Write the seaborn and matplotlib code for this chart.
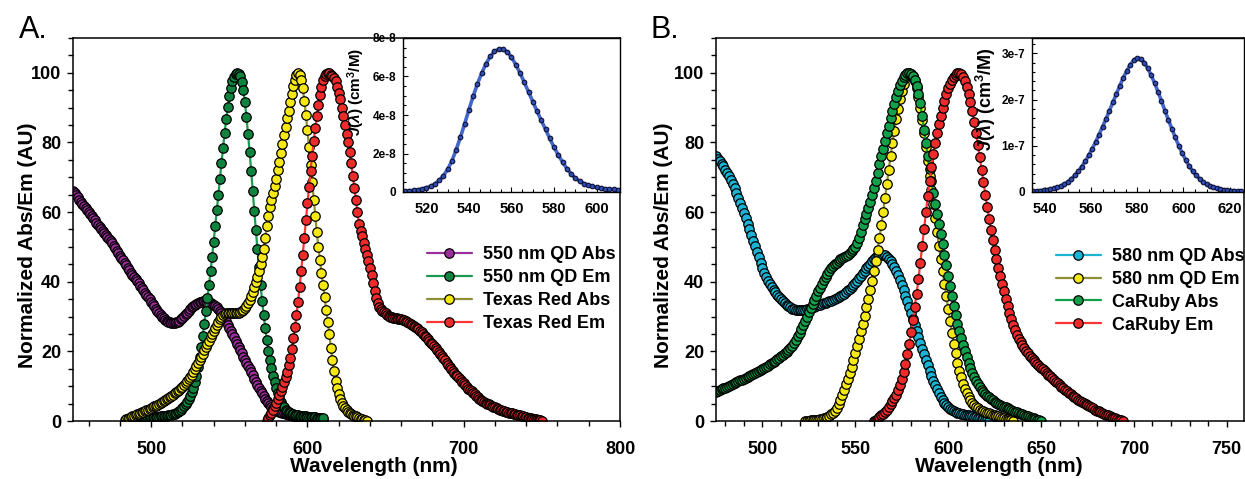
import numpy as np
import pandas as pd
import matplotlib
matplotlib.use("Agg")
import matplotlib.pyplot as plt
import seaborn as sns
from matplotlib.ticker import MultipleLocator, AutoMinorLocator, FuncFormatter

# ---------------- DATA ----------------
# Panel A : 550 nm QD / Texas Red  (1 nm steps)
wl_a_qd_abs = np.arange(450, 611)
a_qd_abs = [
    66.0, 65.4, 64.8, 64.2, 63.6, 63.0, 62.4, 61.8, 61.2, 60.6,
    60.0, 59.4, 58.8, 58.2, 57.6, 57.0, 56.4, 55.8, 55.2, 54.6,
    54.0, 53.4, 52.8, 52.2, 51.6, 51.0, 50.3, 49.6, 48.9, 48.2,
    47.5, 46.8, 46.1, 45.4, 44.7, 44.0, 43.3, 42.6, 42.0, 41.4,
    40.7, 40.1, 39.5, 38.8, 38.2, 37.5, 36.9, 36.3, 35.6, 35.0,
    34.3, 33.6, 33.0, 32.3, 31.7, 31.1, 30.5, 30.0, 29.5, 29.1,
    28.8, 28.5, 28.3, 28.2, 28.1, 28.2, 28.3, 28.5, 28.8, 29.2,
    29.6, 30.1, 30.6, 31.1, 31.6, 32.1, 32.6, 33.0, 33.4, 33.7,
    34.0, 34.2, 34.3, 34.4, 34.4, 34.4, 34.3, 34.1, 33.9, 33.6,
    33.3, 33.0, 32.6, 32.2, 31.7, 31.0, 30.2, 29.4, 28.6, 27.7,
    26.8, 25.9, 25.0, 24.0, 23.1, 22.1, 21.2, 20.3, 19.4, 18.5,
    17.6, 16.7, 15.8, 14.9, 14.0, 13.1, 12.2, 11.3, 10.4, 9.5,
    8.7, 7.9, 7.1, 6.4, 5.7, 5.1, 4.6, 4.1, 3.7, 3.4,
    3.1, 2.9, 2.7, 2.5, 2.3, 2.2, 2.0, 1.9, 1.8, 1.7,
    1.6, 1.5, 1.4, 1.3, 1.2, 1.1, 1.0, 0.95, 0.9, 0.85,
    0.8, 0.75, 0.7, 0.65, 0.6, 0.6, 0.55, 0.5, 0.5, 0.45,
    0.4]

wl_a_qd_em = np.arange(485, 611)
a_qd_em = [
    0.3, 0.4, 0.5, 0.5, 0.6, 0.6, 0.7, 0.7, 0.8, 0.8,
    0.9, 0.9, 1.0, 1.0, 1.0, 1.1, 1.1, 1.1, 1.2, 1.2,
    1.2, 1.3, 1.3, 1.4, 1.4, 1.5, 1.6, 1.7, 1.8, 1.9,
    2.1, 2.3, 2.6, 2.9, 3.3, 3.7, 4.2, 4.8, 5.5, 6.3,
    7.2, 8.3, 9.6, 11.1, 13.0, 15.5, 18.3, 21.3, 24.5, 28.0,
    31.5, 35.2, 39.0, 43.0, 47.2, 51.5, 56.0, 60.5, 65.0, 69.5,
    74.0, 78.5, 82.7, 86.6, 90.1, 93.2, 95.7, 97.6, 98.8, 99.6,
    100.0, 99.8, 99.0, 97.5, 95.0, 91.5, 87.3, 82.5, 77.3, 71.8,
    66.1, 60.4, 54.8, 49.3, 44.1, 39.2, 34.6, 30.4, 26.6, 23.2,
    20.2, 17.5, 15.1, 13.0, 11.1, 9.4, 7.9, 6.6, 5.5, 4.6,
    3.9, 3.3, 2.9, 2.5, 2.2, 2.0, 1.9, 1.8, 1.7, 1.6,
    1.5, 1.4, 1.4, 1.3, 1.3, 1.2, 1.2, 1.2, 1.1, 1.1,
    1.1, 1.0, 1.0, 1.0, 1.0, 0.9]

wl_a_tr_abs = np.arange(483, 639)
a_tr_abs = [
    0.2, 0.5, 0.7, 0.9, 1.1, 1.3, 1.5, 1.7, 1.9, 2.1,
    2.3, 2.5, 2.7, 2.9, 3.1, 3.3, 3.5, 3.7, 3.9, 4.2,
    4.4, 4.6, 4.9, 5.1, 5.4, 5.7, 6.0, 6.3, 6.6, 6.9,
    7.2, 7.5, 7.9, 8.2, 8.6, 9.0, 9.4, 9.9, 10.4, 10.9,
    11.5, 12.1, 12.7, 13.3, 14.0, 14.8, 15.7, 16.6, 17.5, 18.4,
    19.3, 20.3, 21.2, 22.2, 23.1, 24.1, 25.0, 25.9, 26.8, 27.7,
    28.5, 29.3, 29.9, 30.4, 30.8, 31.0, 31.1, 31.1, 31.1, 31.0,
    31.0, 31.0, 31.0, 31.1, 31.2, 31.5, 31.9, 32.4, 33.0, 33.8,
    34.7, 35.8, 37.0, 38.5, 40.0, 41.5, 43.0, 45.0, 47.0, 49.5,
    52.5, 56.0, 59.0, 61.5, 63.5, 65.5, 67.5, 69.5, 72.0, 74.5,
    77.0, 79.5, 82.0, 84.5, 87.0, 89.0, 91.5, 94.0, 96.2, 98.0,
    99.3, 100.0, 99.5, 98.0, 95.5, 92.0, 88.0, 83.5, 78.6, 73.6,
    68.6, 63.6, 58.8, 54.2, 50.0, 46.2, 42.6, 39.0, 35.5, 32.0,
    28.5, 25.0, 21.0, 17.5, 14.3, 11.6, 9.4, 7.7, 6.3, 5.2,
    4.4, 3.7, 3.1, 2.7, 2.3, 2.0, 1.8, 1.5, 1.3, 1.1,
    0.9, 0.7, 0.5, 0.3, 0.2, 0.0]

wl_a_tr_em = np.arange(574, 751)
a_tr_em = [
    0.0, 0.8, 1.6, 2.4, 3.3, 4.2, 5.1, 6.2, 7.4, 8.6,
    9.9, 11.2, 12.6, 14.2, 16.0, 18.2, 20.8, 23.7, 26.9, 30.4,
    34.2, 38.5, 43.0, 47.8, 52.7, 57.6, 62.5, 67.3, 71.9, 76.2,
    80.3, 84.1, 87.6, 90.8, 93.6, 96.0, 97.8, 99.1, 99.8, 100.0,
    99.9, 99.5, 99.2, 98.6, 97.6, 96.0, 94.3, 92.4, 90.0, 87.5,
    85.0, 82.5, 80.0, 77.3, 74.0, 70.5, 67.0, 63.5, 60.0, 56.5,
    54.5, 53.0, 51.2, 49.5, 47.8, 46.0, 44.0, 41.8, 39.6, 37.3,
    35.3, 33.8, 32.8, 32.1, 31.6, 31.2, 30.9, 30.5, 30.2, 30.0,
    29.8, 29.7, 29.6, 29.5, 29.4, 29.3, 29.2, 29.1, 28.9, 28.7,
    28.5, 28.2, 27.9, 27.6, 27.3, 27.0, 26.7, 26.3, 25.9, 25.5,
    25.0, 24.5, 24.0, 23.5, 23.0, 22.5, 22.0, 21.5, 20.9, 20.3,
    19.8, 19.2, 18.6, 18.0, 17.4, 16.8, 16.2, 15.6, 15.0, 14.4,
    13.8, 13.3, 12.8, 12.3, 11.8, 11.3, 10.8, 10.3, 9.8, 9.3,
    8.9, 8.5, 8.1, 7.7, 7.3, 6.8, 6.4, 6.1, 5.8, 5.5,
    5.2, 5.0, 4.8, 4.5, 4.3, 4.1, 3.9, 3.7, 3.5, 3.3,
    3.2, 3.0, 2.9, 2.7, 2.6, 2.4, 2.3, 2.2, 2.1, 1.9,
    1.8, 1.7, 1.6, 1.5, 1.3, 1.2, 1.1, 1.0, 0.9, 0.8,
    0.7, 0.6, 0.5, 0.4, 0.3, 0.2, 0.1]

# Inset A : overlap integral J(lambda), units of 1e-8 cm3/M (2 nm steps)
wl_a_j = np.arange(510, 611, 2)
a_j_e8 = [
    0.05, 0.07, 0.09, 0.12, 0.16, 0.22, 0.30, 0.42, 0.60, 0.85,
    1.18, 1.62, 2.20, 2.85, 3.55, 4.28, 4.98, 5.62, 6.18, 6.66,
    7.04, 7.30, 7.42, 7.42, 7.28, 7.00, 6.62, 6.18, 5.70, 5.20,
    4.70, 4.20, 3.72, 3.25, 2.78, 2.32, 1.92, 1.55, 1.22, 0.94,
    0.72, 0.56, 0.44, 0.36, 0.29, 0.24, 0.20, 0.17, 0.15, 0.13,
    0.12]

# Panel B : 580 nm QD / CaRuby (1 nm steps)
wl_b_qd_abs = np.arange(475, 623)
b_qd_abs = [
    76.0, 75.3, 74.6, 73.9, 73.1, 72.2, 71.3, 70.3, 69.3, 68.1,
    66.8, 65.5, 64.1, 62.7, 61.2, 59.7, 58.2, 56.6, 55.0, 53.4,
    51.8, 50.2, 48.6, 47.0, 45.4, 43.9, 42.5, 41.3, 40.2, 39.3,
    38.5, 37.7, 37.0, 36.3, 35.6, 35.0, 34.4, 33.9, 33.4, 33.0,
    32.6, 32.3, 32.1, 31.9, 31.8, 31.8, 31.8, 31.9, 32.0, 32.1,
    32.2, 32.4, 32.6, 32.8, 33.0, 33.2, 33.4, 33.6, 33.8, 34.0,
    34.2, 34.4, 34.6, 34.8, 35.0, 35.3, 35.6, 35.9, 36.2, 36.6,
    37.0, 37.5, 38.0, 38.5, 39.1, 39.7, 40.3, 41.0, 41.7, 42.4,
    43.1, 43.8, 44.5, 45.2, 45.9, 46.5, 47.0, 47.4, 47.7, 47.8,
    47.8, 47.6, 47.2, 46.6, 45.9, 45.1, 44.1, 43.0, 41.8, 40.5,
    39.1, 37.6, 36.0, 34.4, 32.7, 31.0, 29.3, 27.6, 25.9, 24.2,
    22.5, 20.8, 19.2, 17.6, 16.0, 14.5, 13.0, 11.6, 10.3, 9.1,
    8.0, 7.0, 6.1, 5.3, 4.6, 4.0, 3.5, 3.1, 2.8, 2.6,
    2.4, 2.2, 2.0, 1.9, 1.8, 1.7, 1.6, 1.5, 1.3, 1.2,
    1.1, 1.0, 0.9, 0.7, 0.5, 0.4, 0.2, 0.1]

wl_b_qd_em = np.arange(523, 636)
b_qd_em = [
    0.0, 0.1, 0.1, 0.2, 0.2, 0.3, 0.3, 0.4, 0.5, 0.6,
    0.8, 1.0, 1.2, 1.5, 1.9, 2.4, 3.0, 3.8, 4.8, 6.0,
    7.4, 8.9, 10.5, 12.1, 13.8, 15.6, 17.5, 19.5, 21.5, 23.6,
    25.8, 28.0, 30.3, 32.6, 35.0, 37.5, 40.2, 43.0, 46.0, 49.2,
    52.6, 56.2, 60.0, 64.0, 68.1, 72.2, 76.1, 79.8, 83.3, 86.6,
    89.6, 92.4, 94.8, 96.8, 98.4, 99.5, 100.0, 99.8, 99.0, 97.6,
    95.6, 93.0, 89.9, 86.4, 82.6, 78.6, 74.6, 70.5, 66.4, 62.3,
    58.2, 54.2, 50.3, 46.6, 43.0, 39.4, 35.8, 32.2, 28.6, 25.3,
    22.2, 19.4, 16.8, 14.5, 12.5, 10.7, 9.2, 7.9, 6.8, 5.9,
    5.1, 4.5, 4.0, 3.6, 3.3, 3.0, 2.8, 2.6, 2.4, 2.2,
    2.0, 1.8, 1.7, 1.5, 1.4, 1.2, 1.0, 0.9, 0.7, 0.5,
    0.4, 0.2, 0.1]

wl_b_cr_abs = np.arange(475, 651)
b_cr_abs = [
    8.4, 8.6, 8.9, 9.1, 9.4, 9.6, 9.9, 10.1, 10.4, 10.7,
    10.9, 11.2, 11.4, 11.7, 11.9, 12.2, 12.4, 12.7, 13.0, 13.2,
    13.5, 13.8, 14.1, 14.4, 14.7, 15.0, 15.3, 15.6, 15.9, 16.3,
    16.6, 16.9, 17.3, 17.7, 18.1, 18.6, 19.0, 19.4, 19.8, 20.3,
    20.9, 21.6, 22.4, 23.3, 24.3, 25.4, 26.5, 27.6, 28.8, 30.0,
    31.2, 32.4, 33.6, 34.8, 36.0, 37.2, 38.3, 39.4, 40.4, 41.4,
    42.3, 43.1, 43.8, 44.4, 45.0, 45.5, 46.0, 46.4, 46.8, 47.1,
    47.4, 47.8, 48.2, 48.7, 49.3, 50.1, 51.2, 52.6, 54.3, 56.2,
    58.0, 59.4, 61.2, 63.0, 64.9, 66.8, 69.0, 71.3, 73.7, 76.0,
    78.2, 80.4, 82.6, 84.8, 86.9, 89.0, 91.0, 93.0, 94.8, 96.4,
    97.7, 98.8, 99.5, 99.9, 100.0, 99.7, 99.0, 97.8, 96.1, 93.9,
    91.2, 87.5, 83.7, 79.8, 76.0, 72.3, 68.8, 65.5, 62.4, 59.5,
    56.6, 53.7, 50.8, 47.8, 44.7, 41.7, 38.7, 35.8, 33.0, 30.4,
    28.0, 25.8, 23.7, 21.8, 20.0, 18.3, 16.7, 15.2, 13.8, 12.6,
    11.5, 10.5, 9.7, 9.0, 8.4, 7.8, 7.3, 6.9, 6.4, 6.0,
    5.6, 5.3, 5.0, 4.7, 4.4, 4.1, 3.9, 3.6, 3.4, 3.1,
    2.9, 2.7, 2.5, 2.3, 2.1, 1.9, 1.7, 1.5, 1.3, 1.2,
    1.0, 0.8, 0.6, 0.4, 0.2, 0.1]

wl_b_cr_em = np.arange(560, 695)
b_cr_em = [
    0.0, 0.3, 0.7, 1.1, 1.6, 2.1, 2.7, 3.3, 4.0, 4.8,
    5.7, 6.6, 7.6, 8.8, 10.2, 12.0, 14.1, 16.5, 19.2, 22.2,
    25.5, 29.0, 32.7, 36.6, 40.7, 45.5, 50.4, 55.2, 60.0, 64.5,
    69.0, 73.0, 76.6, 79.8, 82.6, 85.2, 87.6, 89.8, 91.9, 93.8,
    95.5, 96.9, 98.0, 98.9, 99.5, 99.9, 100.0, 99.6, 98.8, 97.6,
    96.0, 94.0, 91.6, 88.9, 85.9, 82.7, 79.3, 75.8, 72.2, 68.6,
    65.0, 61.5, 58.1, 54.9, 51.9, 49.1, 46.5, 44.0, 41.7, 39.4,
    37.2, 35.1, 33.0, 31.1, 29.3, 27.6, 26.1, 24.8, 23.6, 22.6,
    21.7, 20.9, 20.2, 19.5, 18.8, 18.2, 17.6, 17.0, 16.4, 15.8,
    15.3, 14.8, 14.3, 13.8, 13.3, 12.8, 12.3, 11.8, 11.3, 10.8,
    10.3, 9.8, 9.4, 9.0, 8.5, 8.1, 7.7, 7.3, 6.9, 6.5,
    6.1, 5.8, 5.4, 5.1, 4.8, 4.5, 4.2, 3.9, 3.6, 3.3,
    3.0, 2.8, 2.5, 2.3, 2.0, 1.8, 1.6, 1.4, 1.2, 1.0,
    0.8, 0.6, 0.4, 0.2, 0.1]

# Inset B : J(lambda), units of 1e-7 cm3/M (1.5 nm steps)
wl_b_j = np.arange(535.0, 625.1, 1.5)
b_j_e7 = [
    0.02, 0.02, 0.03, 0.04, 0.05, 0.06, 0.08, 0.10, 0.13, 0.17,
    0.22, 0.28, 0.36, 0.45, 0.55, 0.66, 0.79, 0.93, 1.08, 1.24,
    1.41, 1.58, 1.76, 1.94, 2.12, 2.30, 2.47, 2.62, 2.75, 2.85,
    2.90, 2.88, 2.80, 2.68, 2.53, 2.36, 2.17, 1.97, 1.76, 1.56,
    1.37, 1.18, 1.00, 0.84, 0.69, 0.56, 0.45, 0.36, 0.28, 0.22,
    0.17, 0.13, 0.10, 0.08, 0.06, 0.05, 0.04, 0.03, 0.03, 0.02,
    0.02]

labels_a = ["550 nm QD Abs", "550 nm QD Em", "Texas Red Abs", "Texas Red Em"]
labels_b = ["580 nm QD Abs", "580 nm QD Em", "CaRuby Abs", "CaRuby Em"]

# ---------------- STYLE ----------------
sns.set_theme(style="ticks")
plt.rcParams['font.family'] = ['Liberation Sans', 'DejaVu Sans']
plt.rcParams['font.weight'] = 'bold'
plt.rcParams['mathtext.fontset'] = 'custom'
plt.rcParams['mathtext.rm'] = 'Liberation Sans:bold'
plt.rcParams['mathtext.it'] = 'Liberation Sans:italic:bold'
plt.rcParams['mathtext.bf'] = 'Liberation Sans:bold'
plt.rcParams['axes.edgecolor'] = 'black'
plt.rcParams['axes.labelcolor'] = 'black'
plt.rcParams['text.color'] = 'black'
plt.rcParams['xtick.color'] = 'black'
plt.rcParams['ytick.color'] = 'black'
plt.rcParams['xtick.labelcolor'] = 'black'
plt.rcParams['ytick.labelcolor'] = 'black'

W, H = 1245, 479
fig = plt.figure(figsize=(W / 100, H / 100), dpi=100)


def px_axes(l, t, r, b):
    return fig.add_axes([l / W, 1 - b / H, (r - l) / W, (b - t) / H])


MS = 6.8
MEW = 0.9

series_a = [
    (wl_a_qd_abs, a_qd_abs, "#9a2e9a", "#9a2e9a"),
    (wl_a_qd_em, a_qd_em, "#10843f", "#1b9a52"),
    (wl_a_tr_abs, a_tr_abs, "#f6e814", "#8f8f33"),
    (wl_a_tr_em, a_tr_em, "#ee2b2b", "#ff3434"),
]
series_b = [
    (wl_b_qd_abs, b_qd_abs, "#1cb3d4", "#1cb3d4"),
    (wl_b_qd_em, b_qd_em, "#f6e814", "#8f8f33"),
    (wl_b_cr_abs, b_cr_abs, "#12a04a", "#12a04a"),
    (wl_b_cr_em, b_cr_em, "#ee2b2b", "#ff3434"),
]


def main_panel(ax, series, labels, xlim, xmajor, xminor_n, leg_xy, xlab_x, ylab_x):
    for (wl, vals, face, line), lab in zip(series, labels):
        df = pd.DataFrame({"wl": wl, "v": vals})
        sns.lineplot(data=df, x="wl", y="v", ax=ax, sort=False, estimator=None,
                     errorbar=None, color=line, linewidth=1.6, marker="o",
                     markersize=MS, markerfacecolor=face, markeredgecolor="black",
                     markeredgewidth=MEW, label=lab)
    ax.set_xlim(*xlim)
    ax.set_ylim(0, 110)
    ax.xaxis.set_major_locator(MultipleLocator(xmajor))
    ax.xaxis.set_minor_locator(AutoMinorLocator(xminor_n))
    ax.set_yticks([0, 20, 40, 60, 80, 100])
    ax.yaxis.set_minor_locator(AutoMinorLocator(4))
    ax.tick_params(axis="both", which="major", direction="out", length=4.5, width=1.0,
                   labelsize=13, pad=4)
    ax.tick_params(axis="both", which="minor", direction="out", length=3.5, width=1.0)
    ax.tick_params(axis="x", which="major", pad=10)
    for s in ax.spines.values():
        s.set_linewidth(1.1)
        s.set_color("black")
    ax.set_xlabel("Wavelength (nm)", fontsize=15, fontweight="bold")
    ax.set_ylabel("Normalized Abs/Em (AU)", fontsize=15, fontweight="bold")
    ax.xaxis.set_label_coords(xlab_x, -0.093)
    ax.xaxis.label.set_va("top")
    ax.yaxis.set_label_coords(ylab_x, 0.46)
    ax.legend(loc="upper left", bbox_to_anchor=leg_xy, frameon=False,
              borderpad=0, borderaxespad=0, handlelength=2.5,
              handletextpad=0.6, labelspacing=0.33,
              prop={"weight": "bold", "size": 13})


def inset_panel(ax, wl, vals, scale, exp_txt, ylim, ymajor, yminor_n, xlim, ylab_x, ylab_y, ylab_size):
    df = pd.DataFrame({"wl": wl, "J": np.array(vals) * scale})
    sns.lineplot(data=df, x="wl", y="J", ax=ax, sort=False, estimator=None,
                 errorbar=None, color="#4465cc", linewidth=2.6, marker="o",
                 markersize=3.3, markerfacecolor="#2c4fb8", markeredgecolor="#111133",
                 markeredgewidth=0.8)
    ax.set_xlim(*xlim)
    ax.set_ylim(*ylim)
    ax.xaxis.set_major_locator(MultipleLocator(20))
    ax.xaxis.set_minor_locator(AutoMinorLocator(4))
    ax.yaxis.set_major_locator(MultipleLocator(ymajor))
    ax.yaxis.set_minor_locator(AutoMinorLocator(yminor_n))
    ax.yaxis.set_major_formatter(FuncFormatter(
        lambda v, p: "0" if abs(v) < scale * 1e-6 else f"{v / scale:.0f}{exp_txt}"))
    ax.tick_params(axis="both", which="both", direction="in", width=0.8)
    ax.tick_params(axis="both", which="major", length=3.5)
    ax.tick_params(axis="both", which="minor", length=2)
    ax.tick_params(axis="x", labelsize=10.5, pad=7)
    ax.tick_params(axis="y", labelsize=8.5, pad=5)
    for s in ax.spines.values():
        s.set_linewidth(1.0)
        s.set_color("black")
    ax.set_xlabel("")
    ax.set_ylabel(r"$J(\lambda)$ (cm$^{3}$/M)", fontsize=ylab_size, fontweight="bold")
    ax.yaxis.set_label_coords(ylab_x, ylab_y)


# Panel A
axA = px_axes(73, 38, 620, 421)
main_panel(axA, series_a, labels_a, (450, 800), 100, 5, (0.647, 0.457), 0.55, -0.066)
insA = px_axes(403, 38, 620, 192)
inset_panel(insA, wl_a_j, a_j_e8, 1e-8, "e-8", (0, 8e-8), 2e-8, 4, (509, 611), -0.168, 0.65, 11)

# Panel B
axB = px_axes(716, 38, 1243.5, 421)
main_panel(axB, series_b, labels_b, (475, 759), 50, 5, (0.644, 0.452), 0.536, -0.081)
insB = px_axes(1032, 38, 1243.5, 192)
inset_panel(insB, wl_b_j, b_j_e7, 1e-7, "e-7", (0, 3.33e-7), 1e-7, 5, (534.5, 626), -0.16, 0.6, 13)

fig.text(19 / W, 1 - 38 / H, "A.", fontsize=22, fontweight="normal", va="baseline", ha="left")
fig.text(650 / W, 1 - 38 / H, "B.", fontsize=22, fontweight="normal", va="baseline", ha="left")

fig.savefig("out.png", dpi=100)
